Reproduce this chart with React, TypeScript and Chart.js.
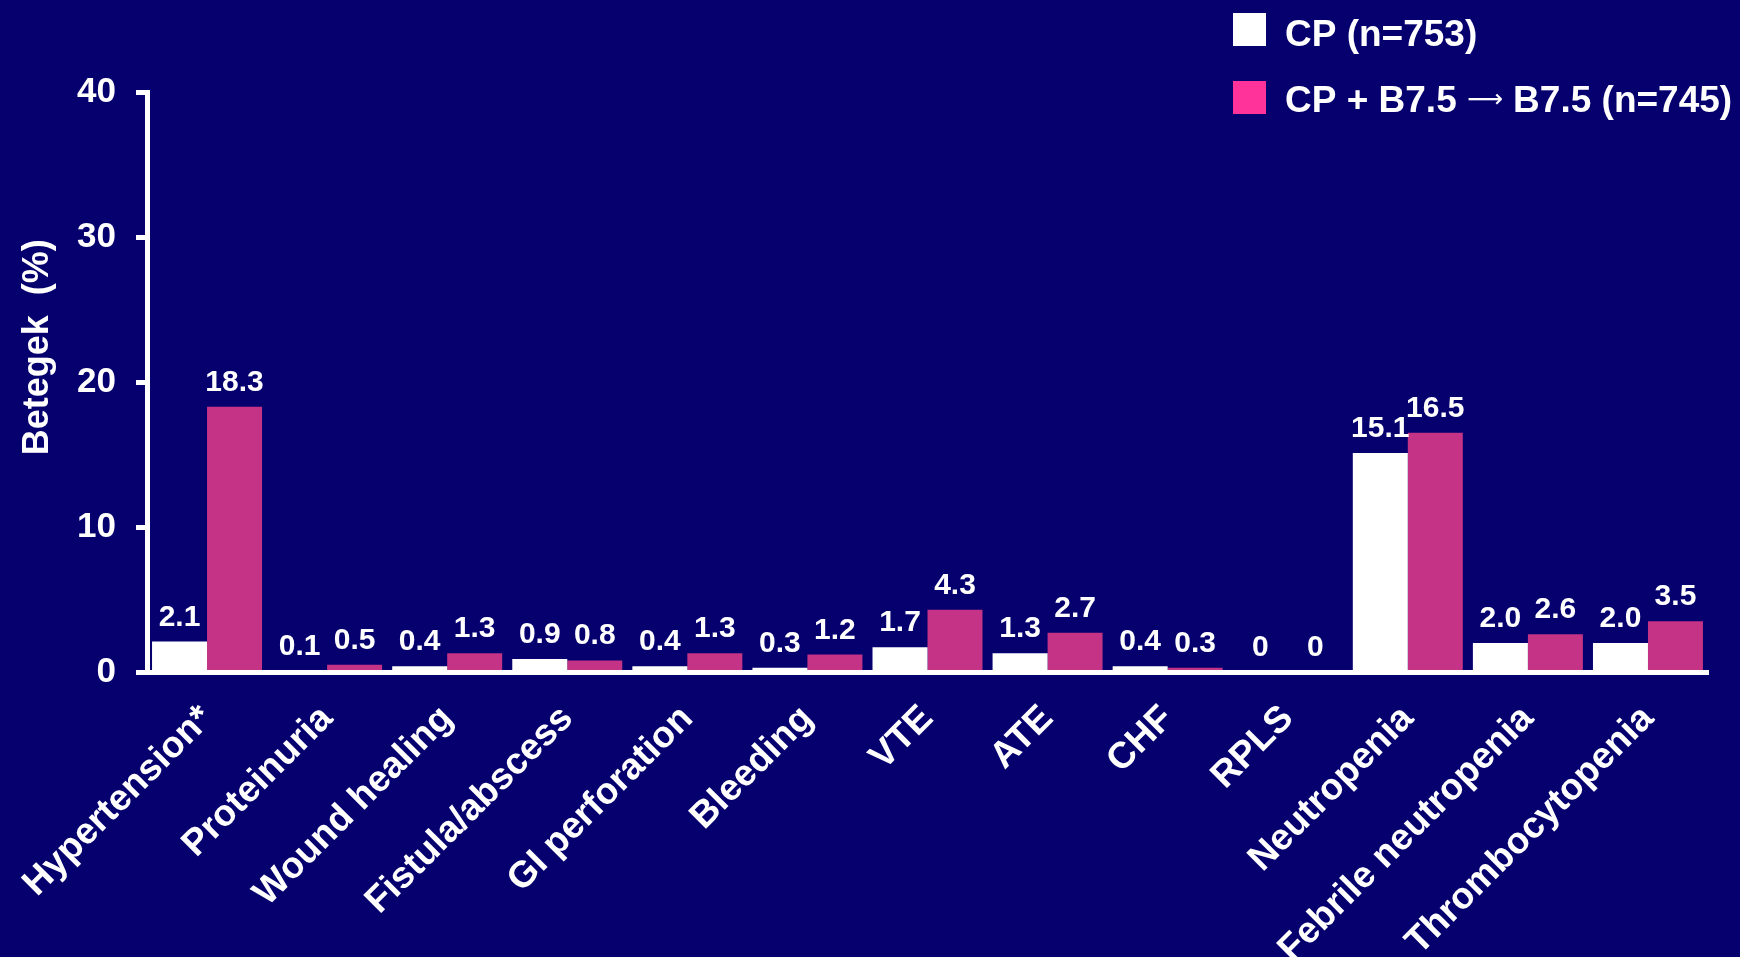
import React, { useEffect, useRef } from "react";
import { Chart, registerables } from "chart.js";

Chart.register(...registerables);

const categories = [
  "Hypertension*",
  "Proteinuria",
  "Wound healing",
  "Fistula/abscess",
  "GI perforation",
  "Bleeding",
  "VTE",
  "ATE",
  "CHF",
  "RPLS",
  "Neutropenia",
  "Febrile neutropenia",
  "Thrombocytopenia",
];

const cpValues = [2.1, 0.1, 0.4, 0.9, 0.4, 0.3, 1.7, 1.3, 0.4, 0, 15.1, 2.0, 2.0];
const comboValues = [18.3, 0.5, 1.3, 0.8, 1.3, 1.2, 4.3, 2.7, 0.3, 0, 16.5, 2.6, 3.5];

const seriesNames = ["CP (n=753)", "CP + B7.5 \u2192 B7.5 (n=745)"];
const yTickMin = 0;
const yTickMax = 40;
const yTickStep = 10;
const yTitle = "Betegek  (%)";

const BG = "#05006E";
const WHITE = "#FFFFFF";
const PINK_BAR = "#C43385";
const PINK_LEGEND = "#FF3399";
const FONT = "'Liberation Sans', Arial, Helvetica, sans-serif";

const fmt = (v: number) => (v === 0 ? "0" : v.toFixed(1));

const valueLabelPlugin = {
  id: "valueLabels",
  afterDatasetsDraw(chart: any) {
    const ctx = chart.ctx;
    ctx.save();
    ctx.fillStyle = WHITE;
    ctx.font = `bold 30px ${FONT}`;
    ctx.textAlign = "center";
    ctx.textBaseline = "alphabetic";
    chart.data.datasets.forEach((ds: any, di: number) => {
      const meta = chart.getDatasetMeta(di);
      meta.data.forEach((bar: any, i: number) => {
        const v = ds.data[i] as number;
        ctx.fillText(fmt(v), bar.x, bar.y - 16);
      });
    });
    ctx.restore();
  },
};

// draws legend text; the arrow is drawn as a long thin arrow glyph
function drawLegendText(ctx: CanvasRenderingContext2D, text: string, x: number, y: number) {
  const parts = text.split("\u2192");
  let cx = x;
  parts.forEach((part, idx) => {
    ctx.font = `bold 37px ${FONT}`;
    ctx.fillText(part, cx, y);
    cx += ctx.measureText(part).width;
    if (idx < parts.length - 1) {
      ctx.font = `normal 25px 'DejaVu Sans', ${FONT}`;
      ctx.fillText("\u27F6", cx, y - 5);
      cx += ctx.measureText("\u27F6").width;
    }
  });
}

const decorPlugin = {
  id: "decor",
  afterDraw(chart: any) {
    const ctx = chart.ctx;
    const area = chart.chartArea;
    ctx.save();
    // y-axis title
    ctx.fillStyle = WHITE;
    ctx.font = `bold 36px ${FONT}`;
    ctx.textAlign = "center";
    ctx.textBaseline = "alphabetic";
    ctx.translate(48, area.top + (area.bottom - area.top) * 0.44);
    ctx.rotate(-Math.PI / 2);
    ctx.fillText(yTitle, 0, 0);
    ctx.restore();

    // legend
    ctx.save();
    const colors = [WHITE, PINK_LEGEND];
    const boxX = 1233;
    const boxSize = 33;
    const rows = [13, 81];
    const baselines = [46, 112];
    ctx.textAlign = "left";
    ctx.textBaseline = "alphabetic";
    seriesNames.forEach((name, i) => {
      ctx.fillStyle = colors[i];
      ctx.fillRect(boxX, rows[i], boxSize, boxSize);
      ctx.fillStyle = WHITE;
      drawLegendText(ctx, name, 1285, baselines[i]);
    });
    ctx.restore();
  },
};

export default function App() {
  const canvasRef = useRef<HTMLCanvasElement | null>(null);

  useEffect(() => {
    document.body.style.margin = "0";
    document.body.style.background = BG;
    const canvas = canvasRef.current;
    if (!canvas) return;
    const chart = new Chart(canvas, {
      type: "bar",
      data: {
        labels: categories,
        datasets: [
          {
            label: seriesNames[0],
            data: cpValues,
            backgroundColor: WHITE,
            borderWidth: 0,
            categoryPercentage: 0.916,
            barPercentage: 1.0,
          },
          {
            label: seriesNames[1],
            data: comboValues,
            backgroundColor: PINK_BAR,
            borderWidth: 0,
            categoryPercentage: 0.916,
            barPercentage: 1.0,
          },
        ],
      },
      options: {
        animation: false,
        responsive: true,
        maintainAspectRatio: false,
        layout: { padding: { top: 92, right: 32, left: 0, bottom: 0 } },
        plugins: {
          legend: { display: false },
          tooltip: { enabled: false },
          title: { display: false },
        },
        scales: {
          x: {
            grid: { display: false, drawTicks: false },
            border: { display: true, color: WHITE, width: 5, z: 1 },
            ticks: {
              color: WHITE,
              font: { family: FONT, size: 37, weight: "bold" },
              autoSkip: false,
              maxRotation: 45,
              minRotation: 45,
              padding: 25,
            },
            afterFit(scale: any) {
              scale.height = 285;
              scale.paddingLeft = 0;
              scale.paddingRight = 0;
            },
          },
          y: {
            min: yTickMin,
            max: yTickMax,
            ticks: {
              stepSize: yTickStep,
              color: WHITE,
              font: { family: FONT, size: 35, weight: "bold" },
              padding: 20,
            },
            grid: {
              display: true,
              drawOnChartArea: false,
              drawTicks: true,
              tickLength: 11,
              tickWidth: 5,
              tickColor: WHITE,
            },
            border: { display: true, color: WHITE, width: 5 },
            afterFit(scale: any) {
              scale.width = 147;
            },
          },
        },
      },
      plugins: [valueLabelPlugin, decorPlugin],
    } as any);
    return () => chart.destroy();
  }, []);

  return (
    <div style={{ width: 1740, height: 957, background: BG, position: "relative" }}>
      <canvas ref={canvasRef} />
    </div>
  );
}
